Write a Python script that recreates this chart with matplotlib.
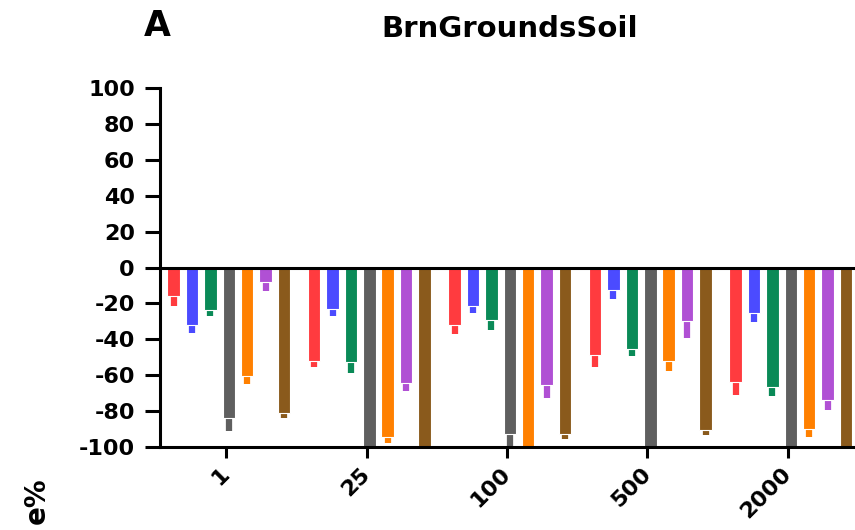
import numpy as np
import matplotlib
matplotlib.use("Agg")
import matplotlib.pyplot as plt

plt.rcParams['font.family'] = ['DejaVu Sans']
plt.rcParams['font.weight'] = 'bold'
plt.rcParams['axes.unicode_minus'] = False

# doses on the x axis
doses = ["1", "25", "100", "500", "2000"]

# mean change (%) per series, one value per dose
red_mean = [-16, -52, -32, -49, -64]
blue_mean = [-32, -23, -21.5, -12.5, -25.5]
green_mean = [-23.5, -52.5, -29, -45.5, -66.5]
gray_mean = [-84, -100, -93, -100, -100]
orange_mean = [-60.5, -94.5, -100, -52, -90]
purple_mean = [-8, -64.5, -65.5, -30, -74]
brown_mean = [-81, -100, -92.5, -90.5, -100]

# error (downward only)
red_err = [5.5, 3.5, 5, 6.5, 7]
blue_err = [4.5, 4, 4, 5, 5]
green_err = [3.5, 6, 6, 4, 5]
gray_err = [7, 0, 7, 0, 0]
orange_err = [4.5, 3.5, 0, 5.5, 4.5]
purple_err = [5, 4.5, 7, 9, 5.5]
brown_err = [3, 0, 3, 3, 0]

means = [red_mean, blue_mean, green_mean, gray_mean, orange_mean, purple_mean, brown_mean]
errs = [red_err, blue_err, green_err, gray_err, orange_err, purple_err, brown_err]
colors = ["#FF3B3F", "#4B4BFF", "#0A8A57", "#5F5F5F", "#FF8000", "#B050D4", "#8A5A1C"]

fig = plt.figure(figsize=(8.55, 5.3), dpi=100)
ax = fig.add_axes([160 / 855, 83 / 530, 695 / 855, 359 / 530])

x = np.arange(len(doses))
pitch = 0.131
width = 0.089

for i in range(len(means)):
    pos = x + 0.02 + (i - 3) * pitch
    m = np.array(means[i])
    e = np.array(errs[i])
    ax.errorbar(pos, m, yerr=[e, np.zeros_like(e)], fmt="none",
                ecolor=colors[i], elinewidth=4.5, capsize=0, zorder=1)
    ax.bar(pos, m, width=width, color=colors[i], edgecolor="white",
           linewidth=0.8, zorder=2)

ax.axhline(0, color="black", linewidth=2.2, zorder=3)

ax.set_ylim(-100, 100)
ax.set_xlim(-0.47, 4.477)
ax.set_yticks(np.arange(-100, 101, 20))
ax.set_xticks(x)
ax.set_xticklabels(doses, rotation=45, ha="right", va="center",
                   rotation_mode="anchor")

for s in ["top", "right"]:
    ax.spines[s].set_visible(False)
for s in ["left", "bottom"]:
    ax.spines[s].set_linewidth(2.2)

ax.tick_params(axis="both", width=2.2, labelsize=16)
ax.tick_params(axis="y", length=11, pad=7)
ax.tick_params(axis="x", length=8, pad=9)
for lbl in ax.get_xticklabels():
    lbl.set_fontweight("bold")
for lbl in ax.get_yticklabels():
    lbl.set_fontweight("bold")

fig.text(510 / 855, 1 - 29 / 530, "BrnGroundsSoil", ha="center", va="center",
         fontsize=21, fontweight="bold")
fig.text(157 / 855, 1 - 26 / 530, "A", ha="center", va="center",
         fontsize=25, fontweight="bold")
fig.text(37 / 855, 1 - 477 / 530, "e%", rotation=90, ha="center", va="top",
         fontsize=20, fontweight="bold")

fig.savefig("out.png", dpi=100)
